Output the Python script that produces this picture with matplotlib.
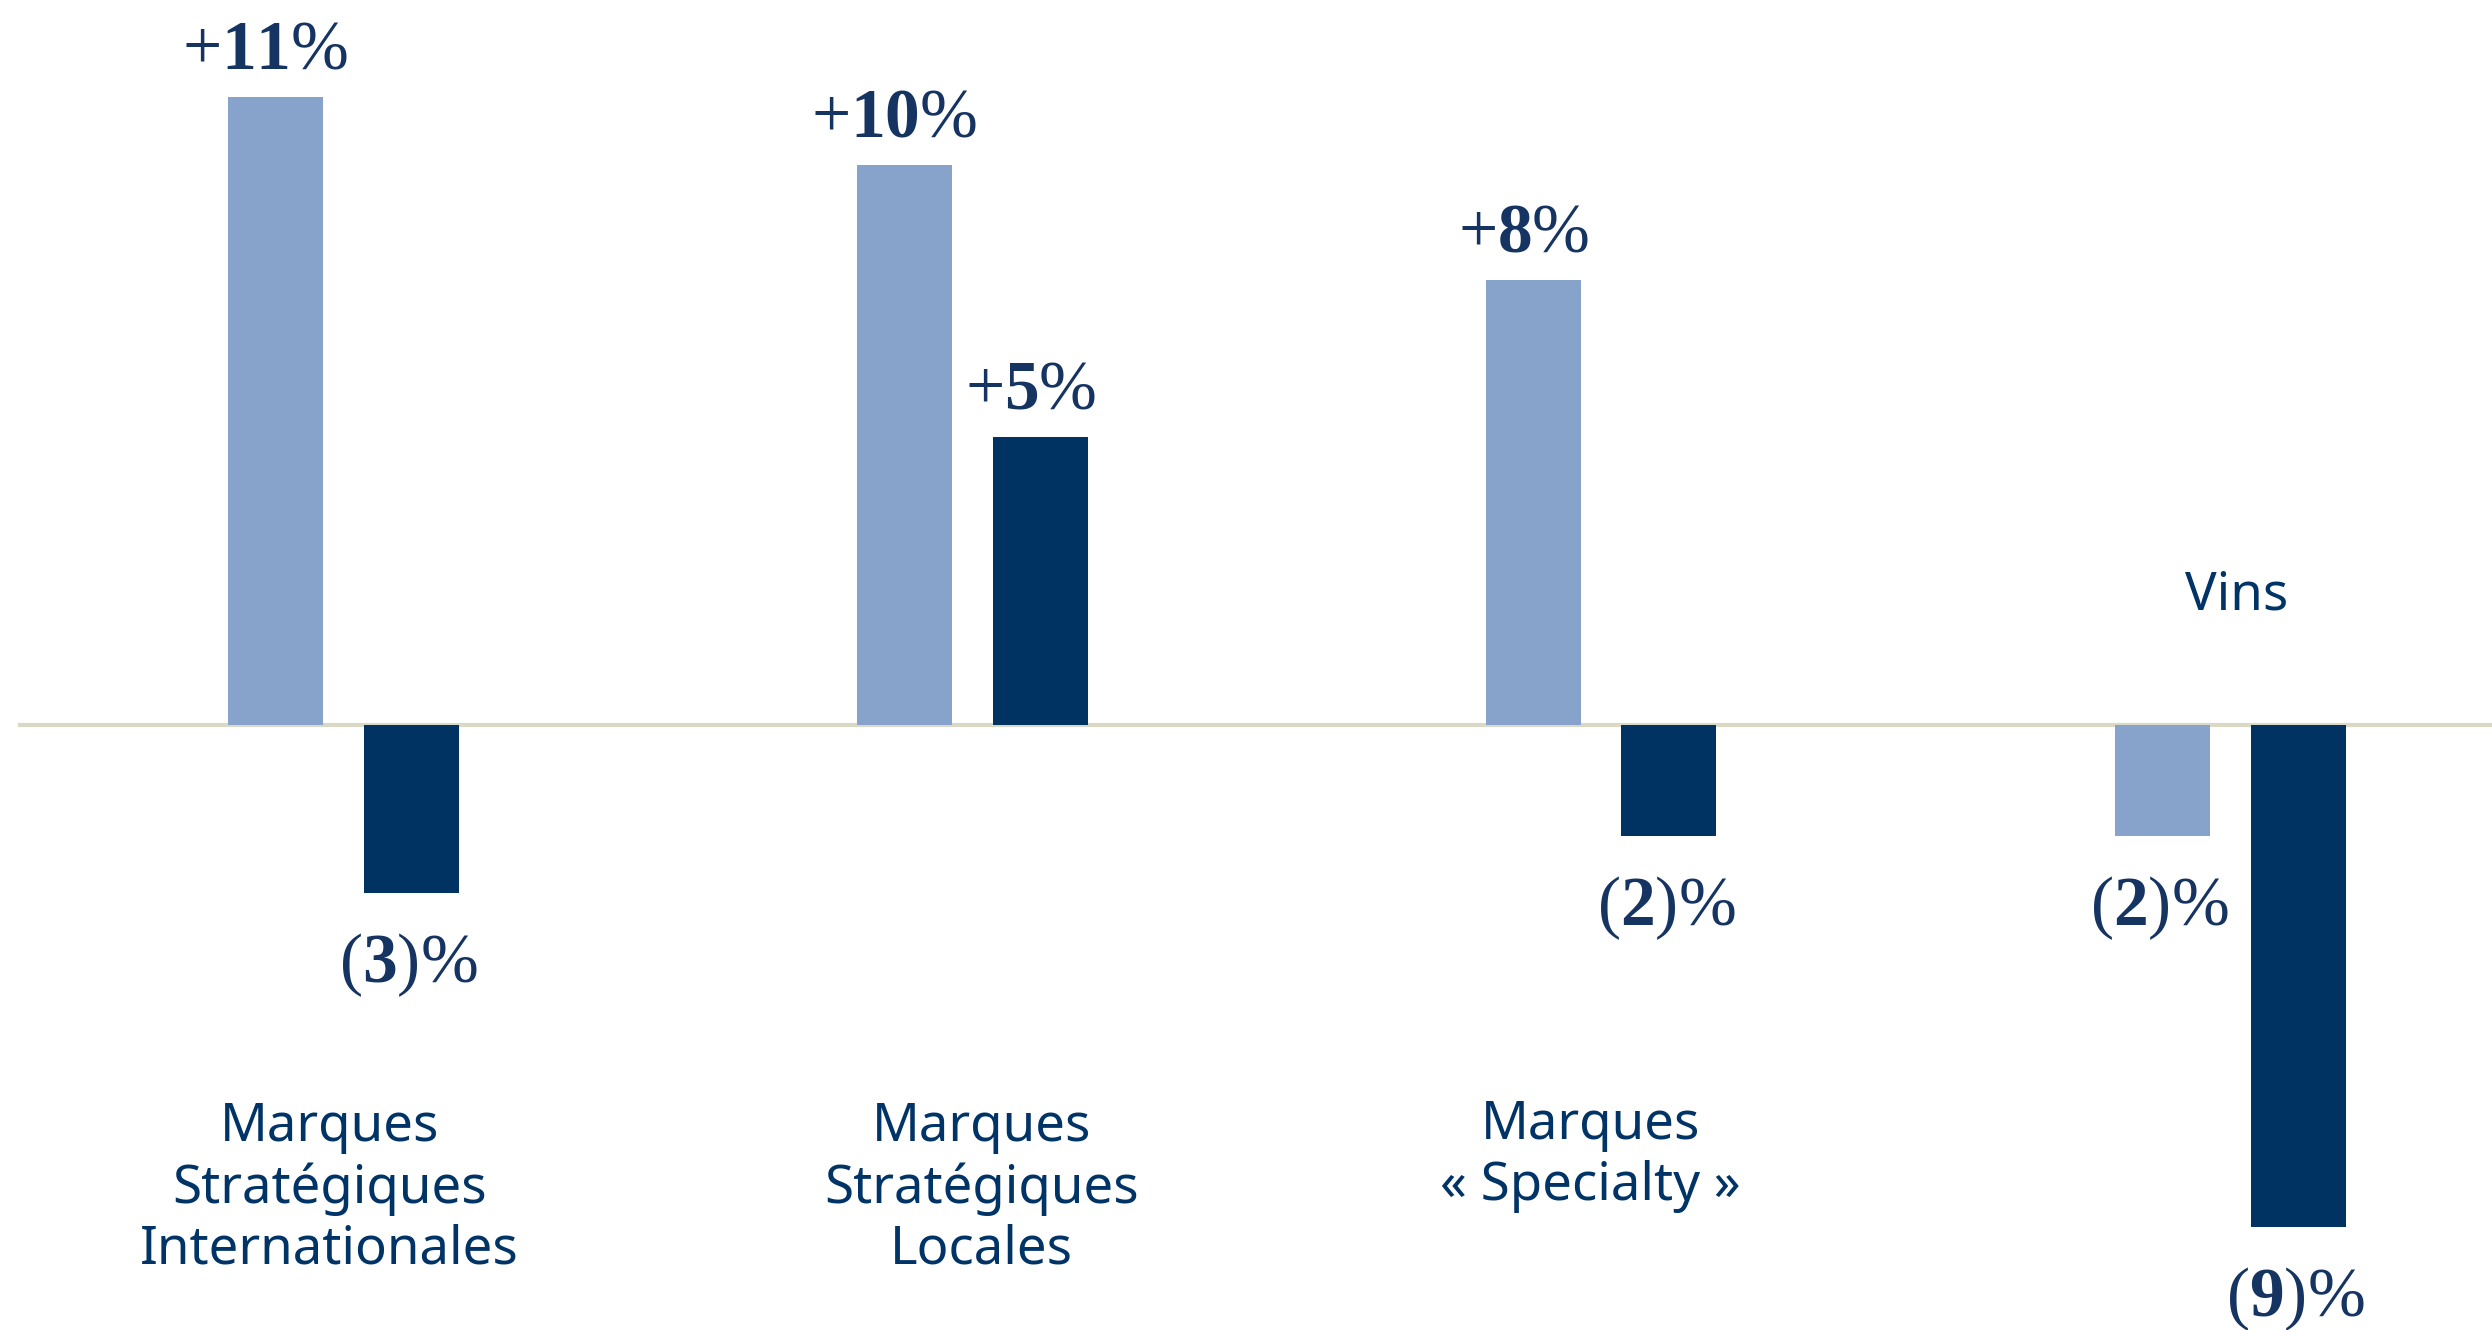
import numpy as np
import matplotlib
matplotlib.use('Agg')
from matplotlib import pyplot as plt

categories = ["Marques\nStratégiques\nInternationales", "Marques\nStratégiques\nLocales",
              "Marques\n« Specialty »", "Vins"]
serie_1 = [11.0, 9.8, 7.8, -1.95]
serie_2 = [-2.95, 5.05, -1.95, -8.8]
labels_1 = ["+11%", "+10%", "+8%", "(2)%"]
labels_2 = ["(3)%", "+5%", "(2)%", "(9)%"]

light = '#87A2CB'
dark = '#003262'
txt = '#163462'
cat_col = '#003366'

plt.rcParams['mathtext.fontset'] = 'custom'
plt.rcParams['mathtext.rm'] = 'Liberation Serif'
plt.rcParams['mathtext.bf'] = 'Liberation Serif:bold'


def fmt(s):
    # bold digits, regular signs
    out = ""
    digits = ""
    for ch in s:
        if ch.isdigit():
            digits += ch
        else:
            if digits:
                out += r"$\mathbf{" + digits + "}$"
                digits = ""
            out += ch
    if digits:
        out += r"$\mathbf{" + digits + "}$"
    return out


W, H = 2492, 1330
fig = plt.figure(figsize=(W / 100, H / 100), dpi=100)
ax = fig.add_axes([0, 0, 1, 1])

step = 629.0
x0 = 343.0
ppu = 57.1
zero_y = 725.0
ax.set_xlim(-x0 / step, (W - x0) / step)
ax.set_ylim(-(H - zero_y) / ppu, zero_y / ppu)
ax.axis('off')

x = np.arange(len(categories))
bw = 95 / step
off = 68 / step

ax.axhline(0, xmin=20 / W, xmax=1, color='#D9D9C6', lw=3, zorder=1)
ax.bar(x - off, serie_1, bw, color=light, zorder=2)
ax.bar(x + off, serie_2, bw, color=dark, zorder=2)

for i in range(len(categories)):
    for v, lab, xx in [(serie_1[i], labels_1[i], x[i] - off), (serie_2[i], labels_2[i], x[i] + off)]:
        if v >= 0:
            ax.text(xx - 0.015, v + 0.5, fmt(lab), ha='center', va='baseline', fontsize=50,
                    family='Liberation Serif', color=txt, zorder=3)
        else:
            ax.text(xx - 0.005, v - 1.25, fmt(lab), ha='center', va='center', fontsize=50,
                    family='Liberation Serif', color=txt, zorder=3)

# category names: baseline of the last line
last_base = [1264, 1264, 1200]
dx = [-0.022, 0.015, -0.017]
for i, c in enumerate(categories[:3]):
    ax.text(x[i] + dx[i], (zero_y - last_base[i]) / ppu, c, ha='center', va='baseline',
            fontsize=38, family='Noto Sans', color=cat_col, linespacing=1.2)
ax.text(x[3] + 0.01, (zero_y - 609) / ppu, categories[3], ha='center', va='baseline',
        fontsize=38, family='Noto Sans', color=cat_col)

fig.savefig('out.png', dpi=100)
